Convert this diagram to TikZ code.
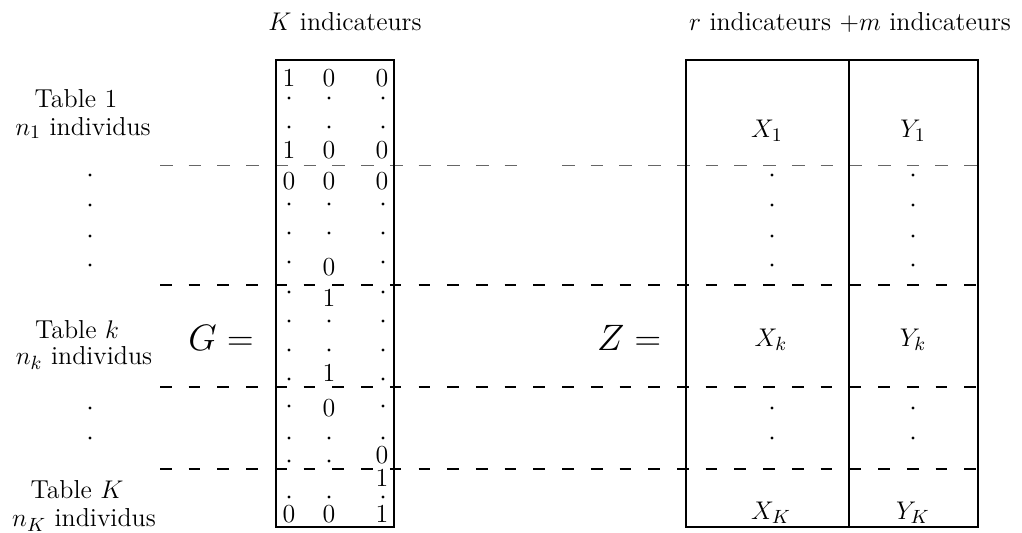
\documentclass[tikz,border=0pt]{standalone}
\begin{document}
\begin{tikzpicture}[x=0.47pt,y=-0.47pt,
  font=\fontsize{12.2}{14}\selectfont,
  boxline/.style={line width=0.8pt},
  septhick/.style={line width=0.75pt, dash pattern=on 5.5pt off 8pt},
  septhin/.style={line width=0.4pt, black!60, dash pattern=on 6pt off 7.5pt},
  pdot/.style={circle, fill, inner sep=0pt, minimum size=1.6pt},
  dig/.style={inner sep=0pt},
  lbl/.style={inner sep=0pt},
  big/.style={inner sep=0pt, font=\fontsize{19}{22}\selectfont}]
\useasboundingbox (0,0) rectangle (1022,533);

% top labels
\node[lbl] (hK) at (345,22) {$K$ indicateurs};
\node[lbl] (hrm) at (850,22) {$r$ indicateurs $+m$ indicateurs};

% left labels
\node[lbl] (t1) at (76,99) {Table 1};
\node[lbl] (i1) at (83,128) {$n_1$ individus};
\node[lbl] (tk) at (77,330) {Table $k$};
\node[lbl] (ik) at (84,358) {$n_k$ individus};
\node[lbl] (tK) at (77,490) {Table $K$};
\node[lbl] (iK) at (84,520) {$n_K$ individus};
\foreach \y [count=\i] in {175,205,236,265,408,438}
  \node[pdot] (ld\i) at (90,\y) {};

% G and Z
\node[big] (G) at (221,338) {$G=$};
\node[big] (Z) at (629,338) {$Z=$};

% dashed separators
\coordinate (s1a) at (160,165); \coordinate (s1b) at (525,165);
\coordinate (s1c) at (562,165); \coordinate (s1d) at (978,165);
\coordinate (s2a) at (160,285); \coordinate (s2b) at (978,285);
\coordinate (s3a) at (160,387); \coordinate (s3b) at (978,387);
\coordinate (s4a) at (160,469); \coordinate (s4b) at (978,469);
\draw[septhin] (s1a) -- (s1b);
\draw[septhin] (s1c) -- (s1d);
\draw[septhick] (s2a) -- (s2b);
\draw[septhick] (s3a) -- (s3b);
\draw[septhick] (s4a) -- (s4b);

% boxes
\coordinate (Gtl) at (276,60); \coordinate (Gbr) at (394,527);
\draw[boxline] (Gtl) rectangle (Gbr);
\coordinate (Ztl) at (686,60); \coordinate (Zbr) at (978,527);
\coordinate (Zdt) at (849,60); \coordinate (Zdb) at (849,527);
\draw[boxline] (Ztl) rectangle (Zbr);
\draw[boxline] (Zdt) -- (Zdb);

% G digits
\foreach \x/\y/\t [count=\i] in {289/78/1,329/78/0,382/78/0,
  289/150/1,329/150/0,382/150/0,
  289/181/0,329/181/0,382/181/0,
  329/267/0,329/298/1,329/373/1,329/408/0,
  382/455/0,382/478/1,
  289/514/0,329/514/0,382/514/1}
  \node[dig] (g\i) at (\x,\y) {\t};
% G dots
\foreach \x/\y [count=\i] in {289/98,329/98,383/98,
  289/127,329/127,383/127,
  289/204,329/204,383/204,
  289/233,329/233,383/233,
  289/262,383/262,
  289/292,383/292,
  289/321,329/321,383/321,
  289/350,329/350,383/350,
  289/379,383/379,
  289/406,383/406,
  289/438,329/438,383/438,
  289/461,329/461,
  289/497,329/497,383/497}
  \node[pdot] (gd\i) at (\x,\y) {};

% Z contents
\node[lbl] (X1) at (767,131) {$X_1$};
\node[lbl] (Y1) at (913,131) {$Y_1$};
\node[lbl] (Xk) at (771,340) {$X_k$};
\node[lbl] (Yk) at (913,340) {$Y_k$};
\node[lbl] (XK) at (771,513) {$X_K$};
\node[lbl] (YK) at (913,513) {$Y_K$};
\foreach \y [count=\i] in {175,205,236,265,408,438}{
  \node[pdot] (zx\i) at (772,\y) {};
  \node[pdot] (zy\i) at (913,\y) {};
}
\end{tikzpicture}
\end{document}
